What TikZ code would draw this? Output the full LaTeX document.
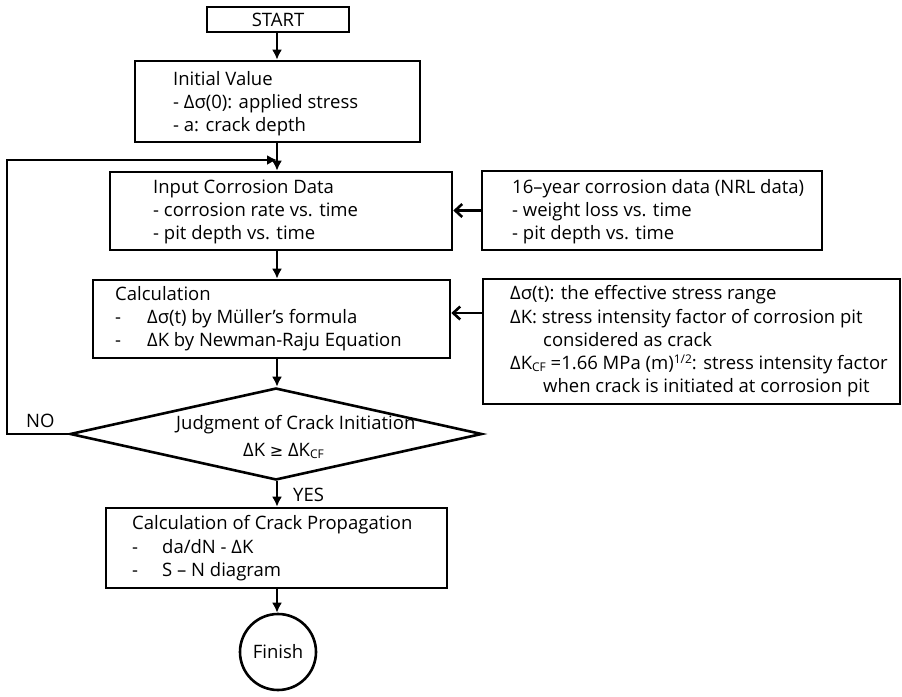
\documentclass[tikz,border=0pt]{standalone}
\usepackage{fontspec}
\setmainfont{Open Sans}
\newfontfamily\symfnt{DejaVu Sans}
\usetikzlibrary{arrows.meta,shapes.geometric}
\begin{document}
\begin{tikzpicture}[x=1pt,y=-1pt,
  box/.style={draw,line width=2.6pt,rectangle,inner sep=0pt},
  lbl/.style={inner sep=0pt,font=\fontsize{18.5}{22}\selectfont},
  txt/.style={anchor=west,inner sep=0pt,font=\fontsize{18.5}{22}\selectfont,text height=13pt,text depth=4pt},
  down/.style={line width=2.6pt,-{Latex[length=10pt,width=10pt]}},
  side/.style={line width=2.6pt,-{Straight Barb[length=7pt,width=13pt,line width=2.6pt]}}
]
\useasboundingbox (0,0) rectangle (902,696);
% boxes
\node[box,minimum width=142pt,minimum height=25pt] (start) at (278,19.5) {};
\node[lbl] at (278,19.5) {START};
\node[box,minimum width=285pt,minimum height=81pt] (init) at (277.5,101.5) {};
\node[box,minimum width=342pt,minimum height=78pt] (input) at (281,211) {};
\node[box,minimum width=340pt,minimum height=79pt] (nrl) at (652,210.5) {};
\node[box,minimum width=357pt,minimum height=78pt] (calc) at (271.5,319) {};
\node[box,minimum width=417pt,minimum height=125pt] (param) at (691.5,341.5) {};
\node[draw,line width=2.6pt,diamond,minimum width=412pt,minimum height=92pt,inner sep=0pt] (judge) at (276,434) {};
\node[box,minimum width=341pt,minimum height=80pt] (prop) at (276.5,548) {};
\node[draw,line width=2.6pt,circle,minimum size=76pt,inner sep=0pt] (fin) at (278,652) {};
\node[lbl] at (278,652) {Finish};
% texts
\node[txt] at (173,81) {Initial Value};
\node[txt] at (173,104) {- Δσ(0): applied stress};
\node[txt] at (173,127) {- a: crack depth};
\node[txt] at (153,189) {Input Corrosion Data};
\node[txt] at (153,212) {- corrosion rate vs. time};
\node[txt] at (153,235) {- pit depth vs. time};
\node[txt] at (512,189) {16–year corrosion data (NRL data)};
\node[txt] at (512,212) {- weight loss vs. time};
\node[txt] at (512,235) {- pit depth vs. time};
\node[txt] at (115,296) {Calculation};
\node[txt] at (115,319) {-};
\node[txt] at (147,319) {Δσ(t) by Müller’s formula};
\node[txt] at (115,342) {-};
\node[txt] at (147,342) {ΔK by Newman-Raju Equation};
\node[txt] at (510,295) {Δσ(t): the effective stress range};
\node[txt] at (510,319) {ΔK: stress intensity factor of corrosion pit};
\node[txt] at (543,342) {considered as crack};
\node[txt] at (510,365) {ΔK\raisebox{-2pt}{\fontsize{12}{12}\selectfont CF} =1.66 MPa (m)\raisebox{6pt}{\fontsize{12}{12}\selectfont 1/2}: stress intensity factor};
\node[txt] at (543,388) {when crack is initiated at corrosion pit};
\node[txt] at (176,425) {Judgment of Crack Initiation};
\node[txt] at (243,452) {ΔK {\symfnt\fontsize{16}{18}\selectfont ≥} ΔK\raisebox{-2pt}{\fontsize{12}{12}\selectfont CF}};
\node[txt] at (132,525) {Calculation of Crack Propagation};
\node[txt] at (132,549) {-};
\node[txt] at (162,549) {da/dN - ΔK};
\node[txt] at (132,572) {-};
\node[txt] at (162,572) {S – N diagram};
\node[txt] at (26,423) {NO};
\node[txt] at (293,497) {YES};
% connectors
\coordinate (j) at (277,160);
\coordinate (lt) at (7,160);
\coordinate (lb) at (7,434);
\draw[down] (start.south -| j) -- (init.north -| j);
\draw[down] (init.south -| j) -- (input.north -| j);
\draw[line width=2.6pt,-{Latex[length=10pt,width=10pt]}] (judge.west) -- (lb) -- (lt) -- (j);
\draw[side] (nrl.west) -- (input.east |- nrl.west);
\draw[down] (input.south -| j) -- (calc.north -| j);
\draw[side] (param.west |- 0,313) -- (calc.east |- 0,313);
\draw[down] (calc.south -| j) -- (judge.north -| j);
\draw[down] (judge.south -| j) -- (prop.north -| j);
\draw[down] (prop.south -| j) -- (fin.north -| j);
\end{tikzpicture}
\end{document}
